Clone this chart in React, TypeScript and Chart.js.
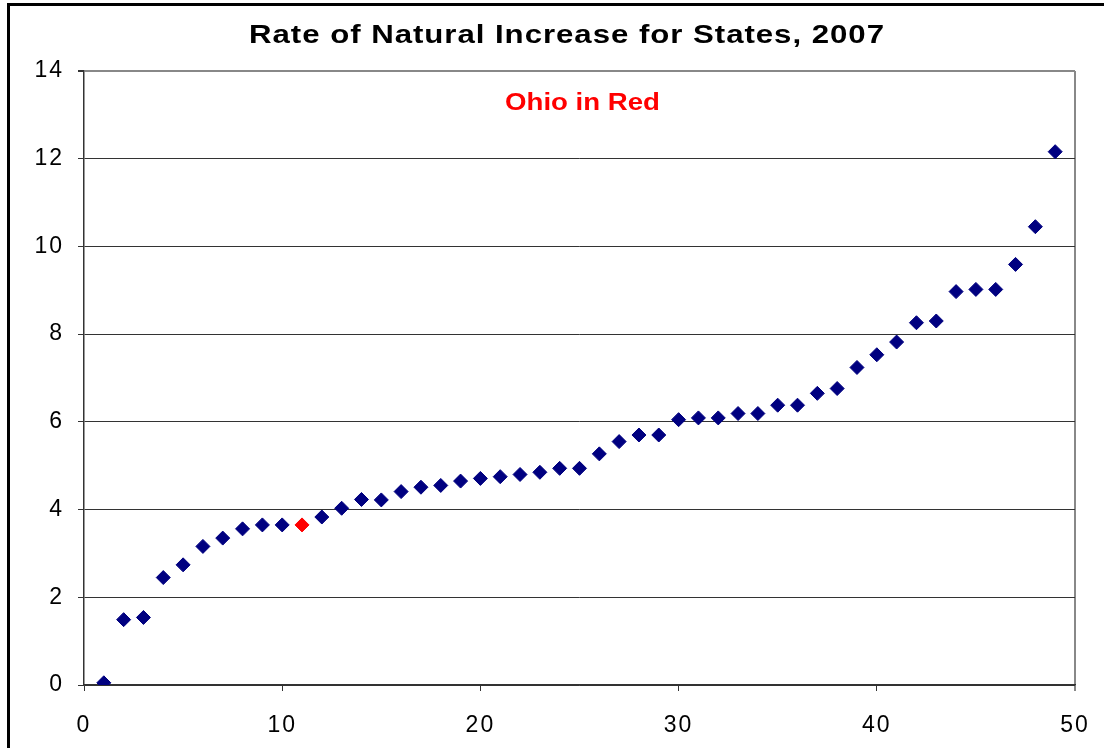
import React, { useEffect, useRef } from 'react';
import { Chart, registerables } from 'chart.js';

Chart.register(...registerables);

const stateRanks = [
  1, 2, 3, 4, 5, 6, 7, 8, 9, 10,
  11, 12, 13, 14, 15, 16, 17, 18, 19, 20,
  21, 22, 23, 24, 25, 26, 27, 28, 29, 30,
  31, 32, 33, 34, 35, 36, 37, 38, 39, 40,
  41, 42, 43, 44, 45, 46, 47, 48, 49,
];
const naturalIncreaseRates = [
  0.05, 1.49, 1.54, 2.45, 2.74, 3.16, 3.35, 3.56, 3.65, 3.65,
  3.65, 3.83, 4.03, 4.23, 4.22, 4.41, 4.51, 4.55, 4.65, 4.71,
  4.75, 4.80, 4.85, 4.94, 4.94, 5.27, 5.55, 5.70, 5.70, 6.05,
  6.09, 6.09, 6.19, 6.19, 6.38, 6.38, 6.65, 6.76, 7.24, 7.53,
  7.82, 8.26, 8.30, 8.97, 9.02, 9.02, 9.59, 10.45, 12.16,
];
const ohioRank = 11;
const xTickValues = [0, 10, 20, 30, 40, 50];
const yTickValues = [0, 2, 4, 6, 8, 10, 12, 14];
const titleText = 'Rate of Natural Increase for States, 2007';
const noteText = 'Ohio in Red';

const FONT = '"Liberation Sans", Arial, Helvetica, sans-serif';

function drawStretched(
  ctx: CanvasRenderingContext2D,
  text: string,
  cx: number,
  cy: number,
  sx: number,
  spacing: string,
) {
  ctx.save();
  (ctx as any).letterSpacing = spacing;
  ctx.translate(cx, cy);
  ctx.scale(sx, 1);
  ctx.textAlign = 'center';
  ctx.textBaseline = 'middle';
  ctx.fillText(text, 0, 0);
  ctx.restore();
}

export default function App() {
  const canvasRef = useRef<HTMLCanvasElement | null>(null);

  useEffect(() => {
    document.body.style.margin = '0';
    const canvas = canvasRef.current;
    if (!canvas) return;

    const decorPlugin = {
      id: 'decor',
      beforeDraw(chart: any) {
        const ctx = chart.ctx;
        ctx.save();
        ctx.fillStyle = '#ffffff';
        ctx.fillRect(0, 0, chart.width, chart.height);
        ctx.restore();
        (ctx as any).letterSpacing = '2px';
      },
      afterDraw(chart: any) {
        const ctx = chart.ctx;
        const area = chart.chartArea;
        (ctx as any).letterSpacing = '0px';
        ctx.save();
        ctx.strokeStyle = '#000000';
        ctx.lineWidth = 3;
        ctx.strokeRect(8.5, 4.5, 1300, 900);
        ctx.fillStyle = '#000000';
        ctx.font = `bold 26px ${FONT}`;
        drawStretched(ctx, titleText, 567, 36, 1.2, '0.8px');
        ctx.fillStyle = '#ff0000';
        ctx.font = `bold 24px ${FONT}`;
        drawStretched(ctx, noteText, (area.left + area.right) / 2 + 3, 103, 1.15, '0px');
        ctx.restore();
      },
    };

    const chart = new Chart(canvas, {
      type: 'scatter',
      data: {
        datasets: [
          {
            data: stateRanks.map((r, i) => ({ x: r, y: naturalIncreaseRates[i] })),
            pointStyle: 'rectRot',
            pointRadius: 7,
            pointHoverRadius: 7,
            borderWidth: 1,
            pointBackgroundColor: stateRanks.map((r) => (r === ohioRank ? '#ff0000' : '#000080')),
            pointBorderColor: stateRanks.map((r) => (r === ohioRank ? '#ff0000' : '#000080')),
          },
        ],
      },
      options: {
        animation: false,
        responsive: false,
        devicePixelRatio: 1,
        layout: { padding: { top: 71, right: 29, left: 0, bottom: 0 } },
        plugins: {
          legend: { display: false },
          title: { display: false },
          tooltip: { enabled: false },
        },
        scales: {
          x: {
            type: 'linear',
            min: 0,
            max: 50,
            afterFit(scale: any) {
              scale.height = 63;
              scale.paddingLeft = 0;
              scale.paddingRight = 0;
            },
            afterBuildTicks(scale: any) {
              scale.ticks = xTickValues.map((v) => ({ value: v }));
            },
            ticks: {
              color: '#000000',
              font: { family: FONT, size: 23 },
              padding: 21,
              maxRotation: 0,
            },
            grid: {
              drawOnChartArea: true,
              drawTicks: true,
              tickLength: 6,
              color: (ctx: any) => (ctx.tick && ctx.tick.value === 50 ? '#888888' : 'rgba(0,0,0,0)'),
              lineWidth: (ctx: any) => (ctx.tick && ctx.tick.value === 50 ? 2 : 1),
              tickColor: (ctx: any) => (ctx.tick && ctx.tick.value === 50 ? '#888888' : '#333333'),
            },
            border: { display: true, color: '#333333', width: 1.5 },
          },
          y: {
            type: 'linear',
            min: 0,
            max: 14,
            afterFit(scale: any) {
              scale.width = 84;
              scale.paddingTop = 0;
              scale.paddingBottom = 0;
            },
            afterBuildTicks(scale: any) {
              scale.ticks = yTickValues.map((v) => ({ value: v }));
            },
            ticks: {
              color: '#000000',
              font: { family: FONT, size: 23 },
              padding: 14,
            },
            grid: {
              drawTicks: true,
              tickLength: 6,
              color: (ctx: any) => (ctx.tick && ctx.tick.value === 14 ? '#888888' : '#333333'),
              lineWidth: (ctx: any) => (ctx.tick && ctx.tick.value === 14 ? 2 : 1),
              tickColor: '#333333',
            },
            border: { display: true, color: '#333333', width: 1.5 },
          },
        },
      },
      plugins: [decorPlugin],
    });

    return () => {
      chart.destroy();
    };
  }, []);

  return (
    <div style={{ position: 'absolute', left: 0, top: 0, width: 1104, height: 748 }}>
      <canvas ref={canvasRef} width={1104} height={748} style={{ width: 1104, height: 748, display: 'block' }} />
    </div>
  );
}
